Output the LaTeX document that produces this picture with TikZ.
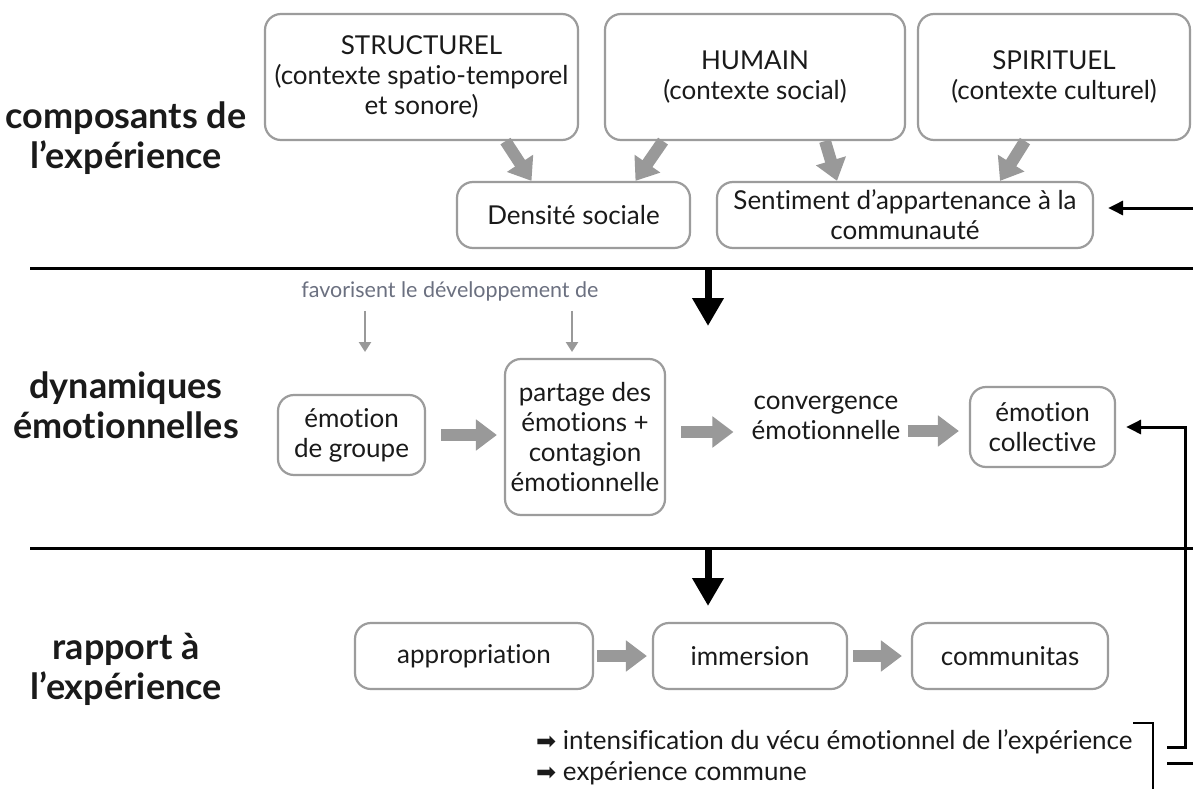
\documentclass[tikz,border=0pt]{standalone}
\usepackage{fontspec}
\setmainfont{Lato}[Ligatures={NoCommon}]
\newfontfamily\symfont{DejaVu Sans}
\usetikzlibrary{arrows.meta,positioning,calc}
\definecolor{inkDark}{HTML}{1A1A1A}
\definecolor{boxGray}{HTML}{9C9C9C}
\definecolor{flowGray}{HTML}{999999}
\definecolor{noteSlate}{HTML}{6B7080}
\tikzset{
  box/.style={draw=boxGray, rounded corners=16pt, line width=2.2pt,
              fill=white, text=inkDark, align=center, inner sep=2pt,
              font=\fontsize{26}{30}\selectfont},
  plain/.style={text=inkDark, align=center, inner sep=0pt,
                font=\fontsize{26}{30}\selectfont},
  heading/.style={text=inkDark, align=center, inner sep=0pt,
                  font=\bfseries\fontsize{36}{40}\selectfont},
  note/.style={text=noteSlate, inner sep=0pt, font=\fontsize{21.5}{24}\selectfont},
  bigflow/.style={-{Triangle[length=21pt,width=30pt]}, draw=flowGray, line width=12pt},
  thinflow/.style={-{Triangle[length=10pt,width=12pt]}, draw=flowGray, line width=2.4pt},
  drop/.style={-{Triangle[length=28pt,width=30pt]}, draw=black, line width=7pt},
  loop/.style={-{Triangle[length=15pt,width=14pt]}, draw=black, line width=3pt},
  rule/.style={draw=black, line width=3pt}
}
\newcommand{\bullarrow}{{\symfont\fontsize{24}{26}\selectfont ➡}}

\begin{document}
\begin{tikzpicture}[x=1pt,y=-1pt]
\useasboundingbox[fill=white] (0,0) rectangle (1193,789);

% ------------------------------------------------------------
% row labels and separators
% ------------------------------------------------------------
\node[heading] (hcomp) at (126,138) {composants de\\l’expérience};
\node[heading] (hdyn) at (126,405) {dynamiques\\émotionnelles};
\node[heading] (hrap) at (126,669) {rapport à\\l’expérience};

\coordinate (r1a) at (30,268);  \coordinate (r1b) at (1193,268);
\coordinate (r2a) at (30,548);  \coordinate (r2b) at (1193,548);
\draw[rule] (r1a) -- (r1b);
\draw[rule] (r2a) -- (r2b);

% ------------------------------------------------------------
% TOP: composants de l'expérience
% ------------------------------------------------------------
\node[box, minimum width=313pt, minimum height=126pt] (struct) at (421.5,77)
  {STRUCTUREL\\(contexte spatio-temporel\\et sonore)};
\node[box, minimum width=300pt, minimum height=126pt] (humain) at (755,77)
  {HUMAIN\\(contexte social)};
\node[box, minimum width=272pt, minimum height=126pt] (spirit) at (1054,77)
  {SPIRITUEL\\(contexte culturel)};

\node[box, minimum width=233pt, minimum height=66pt] (dens) at (573.5,215) {Densité sociale};
\node[box, minimum width=376pt, minimum height=66pt] (sent) at (905,215)
  {Sentiment d’appartenance à la\\communauté};

\draw[bigflow] ([xshift=84pt]struct.south) -- ([xshift=-42pt]dens.north);
\draw[bigflow] ([xshift=-92pt]humain.south) -- ([xshift=62pt]dens.north);
\draw[bigflow] ([xshift=70pt]humain.south) -- ([xshift=-68pt]sent.north);
\draw[bigflow] ([xshift=-29pt]spirit.south) -- ([xshift=95pt]sent.north);

% feedback from the right edge
\coordinate (inSent) at (1193,208);
\draw[loop] (inSent) -- ([xshift=14pt]sent.east |- inSent);

% ------------------------------------------------------------
% MIDDLE: dynamiques émotionnelles
% ------------------------------------------------------------
\coordinate (d1top) at (708,268);
\coordinate (d1end) at (708,326);
\draw[drop] (d1top) -- (d1end);

\node[note] (fav) at (450,291) {favorisent le développement de};
\coordinate (favA) at (365,352);
\coordinate (favB) at (572,352);
\draw[thinflow] ([yshift=-10pt]fav.south -| favA) -- (favA);
\draw[thinflow] ([yshift=-10pt]fav.south -| favB) -- (favB);

\node[box, minimum width=147pt, minimum height=80pt] (group) at (351.5,435) {émotion\\de groupe};
\node[box, minimum width=160pt, minimum height=156pt] (part) at (585,437)
  {partage des\\émotions +\\contagion\\émotionnelle};
\node[plain] (conv) at (826,418) {convergence\\émotionnelle};
\node[box, minimum width=145pt, minimum height=80pt] (coll) at (1042.5,427) {émotion\\collective};

\draw[bigflow] ([xshift=15pt]group.east) -- ([xshift=-7pt]part.west |- group.east);
\draw[bigflow] ([xshift=15pt]part.east |- 0,432) -- ([xshift=-18pt]conv.west |- 0,432);
\draw[bigflow] ([xshift=7pt]conv.east |- 0,431) -- ([xshift=-10pt]coll.west |- 0,431);

% ------------------------------------------------------------
% BOTTOM: rapport à l'expérience
% ------------------------------------------------------------
\coordinate (d2top) at (708,548);
\coordinate (d2end) at (708,606);
\draw[drop] (d2top) -- (d2end);

\node[box, minimum width=238pt, minimum height=66pt] (approp) at (474,656) {appropriation};
\node[box, minimum width=194pt, minimum height=66pt] (immers) at (750,656) {immersion};
\node[box, minimum width=196pt, minimum height=66pt] (commun) at (1010,656) {communitas};

\draw[bigflow] ([xshift=3pt]approp.east) -- ([xshift=-5pt]immers.west);
\draw[bigflow] ([xshift=5pt]immers.east) -- ([xshift=-9pt]commun.west);

\node[plain, anchor=west] (intens) at (536,742)
  {\bullarrow\ intensification du vécu émotionnel de l’expérience};
\node[plain, anchor=west] (commexp) at (536,773)
  {\bullarrow\ expérience commune};

% brackets and return to émotion collective
\coordinate (brA) at (1133,723);
\coordinate (brB) at (1153,723);
\coordinate (brC) at (1153,789);
\draw[rule, line width=2.6pt] (brA) -- (brB) -- (brC);

\coordinate (retA) at (1167,747);
\coordinate (retB) at (1185,747);
\draw[loop] (retA) -- (retB) |- ([xshift=10pt]coll.east);

\coordinate (outA) at (1167,763);
\coordinate (outB) at (1193,763);
\draw[rule] (outA) -- (outB);

\end{tikzpicture}
\end{document}
